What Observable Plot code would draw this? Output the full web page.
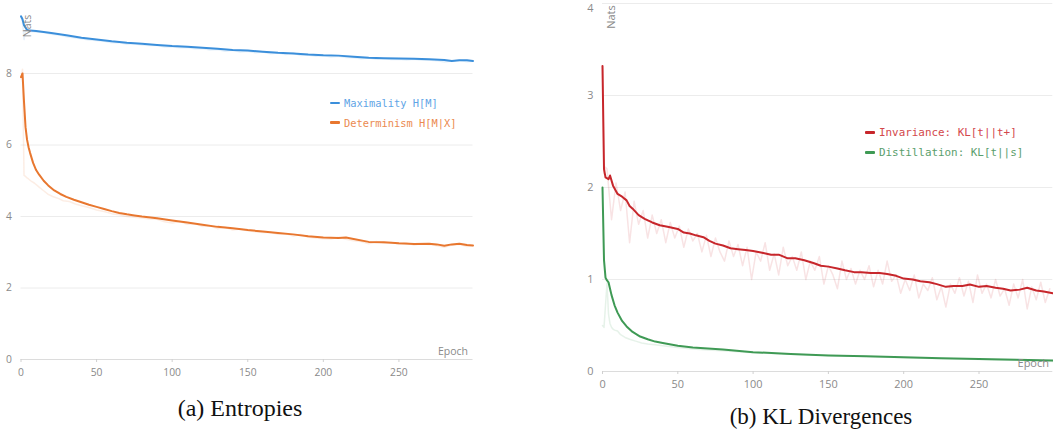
<!DOCTYPE html>
<html><head><meta charset="utf-8">
<script src="https://cdn.jsdelivr.net/npm/d3@7"></script>
<script src="https://cdn.jsdelivr.net/npm/@observablehq/plot@0.6"></script>
<style>
body{margin:0;background:#fff;}
#wrap{position:relative;width:1053px;height:431px;overflow:hidden;background:#fff;}
.panel{position:absolute;top:0;}
.leg{position:absolute;font-family:"DejaVu Sans Mono",monospace;white-space:nowrap;}
.leg .row{display:flex;align-items:center;}
.sw{display:inline-block;width:10px;height:2.5px;margin-right:4px;border-radius:1px;}
.cap{position:absolute;font-family:"Liberation Serif","Times New Roman",serif;color:#111;white-space:nowrap;transform:translateX(-50%);line-height:1;}
.lab{position:absolute;font-family:"Open Sans",sans-serif;color:#8a8a8a;line-height:1;white-space:nowrap;}
</style></head>
<body>
<div id="wrap"></div>
<script>
// ---------- data ----------
const xTicks = [0, 50, 100, 150, 200, 250];
const yTicksLeft = [0, 2, 4, 6, 8];
const yTicksRight = [0, 1, 2, 3];
const yTopTickRight = [4];

// (a) Entropies
const maxEpochs = [0,1,2,4,6,10,20,30,40,50,60,70,80,90,100,110,120,130,140,150,160,170,180,190,200,210,220,230,240,250,260,270,280,285,290,295,299];
const maxSmooth = [9.6,9.52,9.35,9.22,9.2,9.19,9.13,9.07,9.0,8.95,8.9,8.86,8.83,8.8,8.77,8.75,8.72,8.69,8.66,8.64,8.61,8.58,8.56,8.53,8.51,8.5,8.47,8.44,8.43,8.42,8.41,8.4,8.38,8.35,8.37,8.37,8.35];
const maxRawEpochs = [0,1,2,3,5,10,15,20,25,30,35,40,45,50,55,60,65,70,75,80,85,90,95,100,105,110,115,120,125,130,135,140,145,150,155,160,165,170,175,180,185,190,195,200,205,210,215,220,225,230,235,240,245,250,255,260,265,270,275,280,285,290,295,299];
const maxRaw = [9.6,9.45,8.95,9.2,9.18,9.16,9.15,9.1,9.08,9.03,9.0,8.97,8.94,8.92,8.9,8.86,8.87,8.82,8.83,8.8,8.78,8.79,8.74,8.75,8.72,8.73,8.69,8.7,8.66,8.67,8.62,8.65,8.6,8.62,8.58,8.6,8.55,8.57,8.53,8.58,8.5,8.52,8.48,8.5,8.46,8.48,8.45,8.44,8.41,8.43,8.4,8.42,8.39,8.4,8.38,8.4,8.37,8.38,8.36,8.32,8.35,8.37,8.33,8.34];

const detEpochs = [0,1,2,3,4,5,6,8,10,12,15,18,22,26,30,35,40,45,50,55,60,65,70,75,80,90,100,110,120,130,140,150,160,170,180,190,200,210,215,220,230,240,250,260,270,275,280,285,290,295,299];
const detSmooth = [7.9,8.0,7.2,6.5,6.15,5.94,5.78,5.5,5.3,5.17,5.0,4.87,4.73,4.63,4.55,4.47,4.4,4.33,4.27,4.21,4.15,4.1,4.06,4.03,4.0,3.95,3.89,3.83,3.77,3.71,3.67,3.62,3.58,3.54,3.5,3.45,3.41,3.4,3.41,3.37,3.29,3.28,3.25,3.23,3.24,3.22,3.18,3.22,3.24,3.2,3.19];
const detRawEpochs = [0,1,2,3,4,5,7,9,12,15,18,21,25,28,32,36,40,45,50,55,60,65,70,75,80,85,90,95,100,105,110,115,120,125,130,135,140,145,150,155,160,165,170,175,180,185,190,195,200,205,210,215,220,225,230,235,240,245,250,255,260,265,270,275,280,285,290,295,299];
const detRaw = [7.85,8.12,5.15,5.12,5.08,5.05,4.98,4.93,4.82,4.72,4.62,4.56,4.5,4.44,4.42,4.35,4.3,4.25,4.18,4.14,4.08,4.05,4.0,3.98,3.96,3.93,3.92,3.85,3.82,3.86,3.78,3.8,3.72,3.74,3.66,3.7,3.62,3.65,3.6,3.57,3.55,3.56,3.5,3.52,3.45,3.5,3.42,3.4,3.38,3.37,3.42,3.36,3.32,3.3,3.24,3.3,3.25,3.27,3.22,3.26,3.2,3.24,3.22,3.18,3.14,3.2,3.22,3.16,3.18];

// (b) KL Divergences
const invEpochs = [0,1,2,4,5,7,10,13,16,18,20,24,28,33,38,44,50,54,58,62,67,71,75,80,85,90,95,100,106,112,117,123,128,134,140,145,150,156,161,167,172,178,184,189,195,200,206,211,217,222,228,233,239,244,250,255,261,266,271,277,282,288,293,299];
const invSmooth = [3.32,2.2,2.11,2.09,2.13,2.02,1.93,1.9,1.86,1.8,1.77,1.7,1.66,1.62,1.59,1.57,1.55,1.51,1.5,1.48,1.46,1.42,1.39,1.37,1.34,1.33,1.32,1.31,1.29,1.27,1.27,1.23,1.23,1.21,1.18,1.15,1.14,1.12,1.1,1.08,1.08,1.07,1.07,1.06,1.04,1.01,1.0,0.98,0.97,0.95,0.92,0.93,0.93,0.945,0.92,0.93,0.91,0.9,0.88,0.89,0.91,0.88,0.87,0.85];
const invRawEpochs = [0,1,2,3,6,9,12,15,18,21,24,27,30,33,36,39,42,45,48,51,54,57,60,63,66,69,72,75,78,81,84,87,90,93,96,99,102,105,108,111,114,117,120,123,126,129,132,135,138,141,144,147,150,153,156,159,162,165,168,171,174,177,180,183,186,189,192,195,198,201,204,207,210,213,216,219,222,225,228,231,234,237,240,243,246,249,252,255,258,261,264,267,270,273,276,279,282,285,288,291,294,297];
const invRaw = [3.32,2.15,2.22,2.2,1.65,2.05,1.75,1.95,1.4,1.85,1.6,1.75,1.45,1.7,1.5,1.65,1.4,1.62,1.45,1.58,1.35,1.55,1.42,1.5,1.3,1.48,1.25,1.45,1.3,1.2,1.42,1.25,1.38,1.15,1.35,1.0,1.3,1.2,1.4,1.1,1.28,1.05,1.35,1.15,1.25,1.1,1.3,1.0,1.2,1.1,1.25,0.95,1.15,1.05,0.9,1.2,1.0,1.12,0.95,1.1,1.0,1.15,0.92,1.1,0.95,1.2,0.98,1.05,0.85,1.0,0.88,1.05,0.8,0.95,0.88,1.02,0.78,0.92,0.7,0.95,0.85,1.02,0.82,0.98,0.75,1.05,0.85,0.95,0.8,1.0,0.82,0.9,0.72,0.95,0.8,1.0,0.68,0.92,0.78,0.97,0.75,0.9];

const disEpochs = [0,1,2,3,4,5,6,8,10,13,16,20,25,30,35,40,50,60,70,80,100,125,150,175,200,225,250,275,299];
const disSmooth = [2.0,1.21,1.02,0.99,0.97,0.9,0.83,0.72,0.64,0.55,0.49,0.43,0.38,0.35,0.325,0.31,0.28,0.26,0.25,0.24,0.21,0.19,0.175,0.165,0.155,0.145,0.135,0.128,0.12];
const disRawEpochs = [0,1,2,3,4,5,6,7,8,10,12,15,18,22,26,30,35,40,50,60,70,80,90,100,120,140,160,180,200,220,240,260,280,299];
const disRaw = [0.5,0.48,0.72,0.96,0.62,0.52,0.48,0.46,0.45,0.44,0.4,0.37,0.35,0.33,0.31,0.3,0.29,0.28,0.26,0.245,0.235,0.225,0.215,0.205,0.19,0.18,0.17,0.16,0.15,0.14,0.135,0.125,0.12,0.11];

const colors = {blue:"#3b8fdb", orange:"#e8772f", red:"#c7262b", green:"#3f9a55"};
const textColors = {blue:"#5fa5e6", orange:"#eb8a50", red:"#d3474b", green:"#5a9e6c"};

// ---------- helpers ----------
const series = (ep, vals) => ep.map((e, i) => ({epoch: e, value: vals[i]}));
const rawLine = (data, c) => Plot.line(data, {x: "epoch", y: "value", stroke: c, strokeOpacity: 0.13, strokeWidth: 1.5});
const smoothLine = (data, c) => Plot.line(data, {x: "epoch", y: "value", stroke: c, strokeWidth: 2, curve: "linear"});

const wrap = document.getElementById("wrap");

function panel(opts) {
  const yAxes = [Plot.axisY(opts.yTicks, {tickSize: 0, tickPadding: 9, label: null, fill: "#8a8a8a", tickFormat: d3.format("d")})];
  if (opts.topTick) yAxes.push(Plot.axisY(opts.topTick, {tickSize: 0, tickPadding: 9, label: null, fill: "#8a8a8a", tickFormat: d3.format("d"), dy: 5}));
  const svg = Plot.plot({
    width: opts.width, height: opts.height,
    marginLeft: opts.ml, marginRight: opts.mr, marginTop: opts.mt, marginBottom: opts.mb,
    x: {domain: [0, 299]},
    y: {domain: opts.yDomain},
    style: {fontFamily: "'Open Sans', sans-serif", fontSize: opts.fs + "px", color: "#8a8a8a", background: "transparent", overflow: "visible"},
    marks: [
      Plot.gridY(opts.grid, {stroke: "#ececec", strokeOpacity: 1}),
      ...yAxes,
      Plot.ruleY([0], {stroke: "#dcdcdc", strokeWidth: 1.2}),
      Plot.axisX(xTicks, {tickSize: 3, tickPadding: 6, label: null, stroke: "#d0d0d0", fill: "#8a8a8a", tickFormat: d3.format("d")}),
      ...opts.lines
    ]
  });
  svg.classList.add("panel");
  svg.style.left = opts.left + "px";
  wrap.appendChild(svg);
}

panel({
  left: 0, width: 480, height: 385, ml: 20.5, mr: 7.5, mt: 1.5, mb: 26, fs: 10.3,
  yDomain: [0, 10], grid: [2, 4, 6, 8], yTicks: yTicksLeft,
  lines: [
    rawLine(series(maxRawEpochs, maxRaw), colors.blue),
    rawLine(series(detRawEpochs, detRaw), colors.orange),
    smoothLine(series(maxEpochs, maxSmooth), colors.blue),
    smoothLine(series(detEpochs, detSmooth), colors.orange)
  ]
});

panel({
  left: 570, width: 483, height: 395, ml: 32, mr: 0.7, mt: 3, mb: 24, fs: 10.9,
  yDomain: [0, 4], grid: [1, 2, 3, 4], yTicks: yTicksRight, topTick: yTopTickRight,
  lines: [
    rawLine(series(invRawEpochs, invRaw), colors.red),
    rawLine(series(disRawEpochs, disRaw), colors.green),
    smoothLine(series(invEpochs, invSmooth), colors.red),
    smoothLine(series(disEpochs, disSmooth), colors.green)
  ]
});

// ---------- text overlays ----------
function addDiv(cls, html, style) {
  const d = document.createElement("div");
  d.className = cls; d.innerHTML = html;
  Object.assign(d.style, style);
  wrap.appendChild(d);
  return d;
}
function legend(items, left, top, rowH, fs) {
  const html = items.map(it => `<div class="row" style="height:${rowH}px;color:${it.tc}"><span class="sw" style="background:${it.c}"></span>${it.label}</div>`).join("");
  addDiv("leg", html, {left: left + "px", top: top + "px", fontSize: fs + "px"});
}
legend([
  {label: "Maximality H[M]", c: colors.blue, tc: textColors.blue},
  {label: "Determinism H[M|X]", c: colors.orange, tc: textColors.orange}
], 330, 93, 19.7, 10.4);
legend([
  {label: "Invariance: KL[t||t+]", c: colors.red, tc: textColors.red},
  {label: "Distillation: KL[t||s]", c: colors.green, tc: textColors.green}
], 865, 122.7, 20, 10.9);

// axis labels
addDiv("lab", "Epoch", {right: (1053 - 468) + "px", top: "346px", fontSize: "10.5px"});
addDiv("lab", "Epoch", {right: (1053 - 1049) + "px", top: "357px", fontSize: "11px"});
addDiv("lab", "Nats", {left: "26.7px", top: "26.4px", fontSize: "10.5px", transform: "translate(-50%,-50%) rotate(-90deg)"});
addDiv("lab", "Nats", {left: "610px", top: "17px", fontSize: "11px", transform: "translate(-50%,-50%) rotate(-90deg)"});

// captions
addDiv("cap", "(a) Entropies", {left: "240px", top: "396px", fontSize: "24px"});
addDiv("cap", "(b) KL Divergences", {left: "821px", top: "405px", fontSize: "23px"});
</script>
</body></html>
